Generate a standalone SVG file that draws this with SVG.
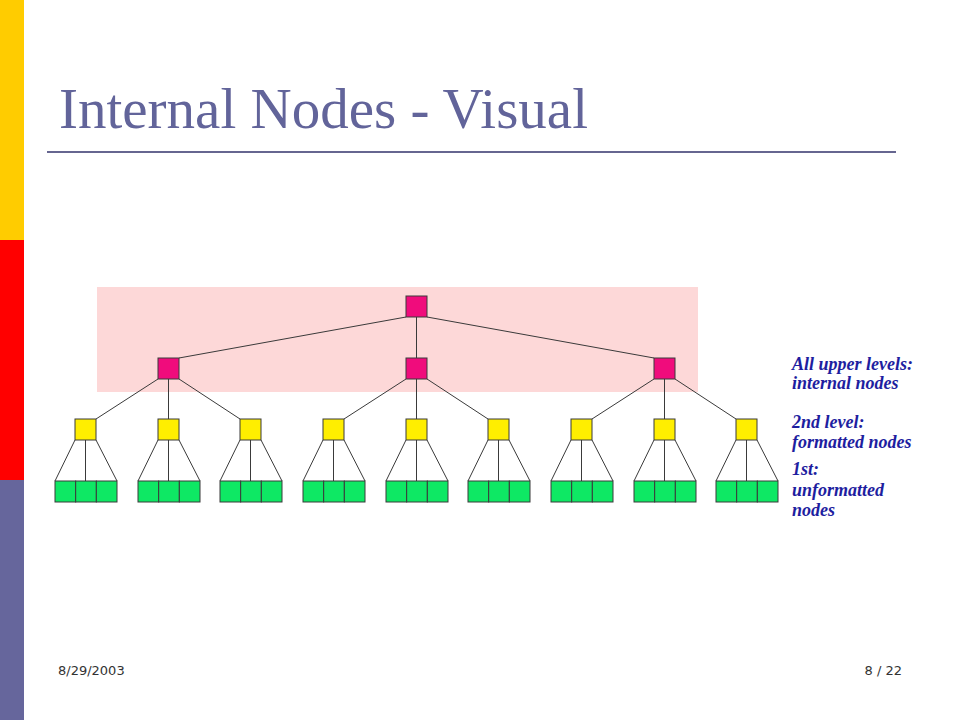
<svg xmlns="http://www.w3.org/2000/svg" width="960" height="720" viewBox="0 0 960 720">
<style>
.n{stroke:#3a3a3a;stroke-width:1}
.int{fill:#F00C7C}
.fmt{fill:#FFEE00}
.unf{fill:#0EE864}
.c{stroke:#3a3a3a;stroke-width:1;fill:none}
.lbl{font-family:"Liberation Serif",serif;font-weight:bold;font-style:italic;font-size:18px;fill:#1E1EA0}
.ft{font-family:"DejaVu Sans",sans-serif;font-size:13px;fill:#333333}
</style>
<defs>
<g id="leaf">
<rect class="n unf" x="0" y="0" width="20.67" height="21"/>
<rect class="n unf" x="20.67" y="0" width="20.67" height="21"/>
<rect class="n unf" x="41.33" y="0" width="20.67" height="21"/>
</g>
</defs>
<rect width="960" height="720" fill="#FFFFFF"/>
<rect x="0" y="0" width="24" height="240" fill="#FFCC00"/>
<rect x="0" y="240" width="24" height="240" fill="#FF0000"/>
<rect x="0" y="480" width="24" height="240" fill="#66669C"/>
<text x="59" y="128" font-family="'Liberation Serif',serif" font-size="57" fill="#62649A">Internal Nodes - Visual</text>
<line x1="47" y1="152" x2="896" y2="152" stroke="#666690" stroke-width="2"/>
<rect x="97" y="287" width="601" height="105" fill="#FDD8D8"/>
<g id="connectors">
<path class="c" d="M406 317L179 358M416.5 317L416.5 358M427 317L654 358"/>
<path class="c" d="M158 379L96 419M168.5 379L168.5 419M179 379L240 419"/>
<path class="c" d="M406 379L344 419M416.5 379L416.5 419M427 379L488 419"/>
<path class="c" d="M654 379L592 419M664.5 379L664.5 419M675 379L736 419"/>
<path class="c" d="M75 440L55 481M85.5 440L85.5 481M96 440L117 481"/>
<path class="c" d="M158 440L138 481M168.5 440L168.5 481M179 440L200 481"/>
<path class="c" d="M240 440L220 481M250.5 440L250.5 481M261 440L282 481"/>
<path class="c" d="M323 440L303 481M333.5 440L333.5 481M344 440L365 481"/>
<path class="c" d="M406 440L386 481M416.5 440L416.5 481M427 440L448 481"/>
<path class="c" d="M488 440L468 481M498.5 440L498.5 481M509 440L530 481"/>
<path class="c" d="M571 440L551 481M581.5 440L581.5 481M592 440L613 481"/>
<path class="c" d="M654 440L634 481M664.5 440L664.5 481M675 440L696 481"/>
<path class="c" d="M736 440L716 481M746.5 440L746.5 481M757 440L778 481"/>
</g>
<g id="root"><rect class="n int" x="406" y="296" width="21" height="21"/></g>
<g id="int1"><rect class="n int" x="158" y="358" width="21" height="21"/></g>
<g id="int2"><rect class="n int" x="406" y="358" width="21" height="21"/></g>
<g id="int3"><rect class="n int" x="654" y="358" width="21" height="21"/></g>
<g id="fmt1"><rect class="n fmt" x="75" y="419" width="21" height="21"/></g>
<g id="fmt2"><rect class="n fmt" x="158" y="419" width="21" height="21"/></g>
<g id="fmt3"><rect class="n fmt" x="240" y="419" width="21" height="21"/></g>
<g id="fmt4"><rect class="n fmt" x="323" y="419" width="21" height="21"/></g>
<g id="fmt5"><rect class="n fmt" x="406" y="419" width="21" height="21"/></g>
<g id="fmt6"><rect class="n fmt" x="488" y="419" width="21" height="21"/></g>
<g id="fmt7"><rect class="n fmt" x="571" y="419" width="21" height="21"/></g>
<g id="fmt8"><rect class="n fmt" x="654" y="419" width="21" height="21"/></g>
<g id="fmt9"><rect class="n fmt" x="736" y="419" width="21" height="21"/></g>
<g id="unf1"><use href="#leaf" x="55" y="481"/></g>
<g id="unf2"><use href="#leaf" x="138" y="481"/></g>
<g id="unf3"><use href="#leaf" x="220" y="481"/></g>
<g id="unf4"><use href="#leaf" x="303" y="481"/></g>
<g id="unf5"><use href="#leaf" x="386" y="481"/></g>
<g id="unf6"><use href="#leaf" x="468" y="481"/></g>
<g id="unf7"><use href="#leaf" x="551" y="481"/></g>
<g id="unf8"><use href="#leaf" x="634" y="481"/></g>
<g id="unf9"><use href="#leaf" x="716" y="481"/></g>
<g id="legend">
<text class="lbl" x="792" y="370">All upper levels:</text>
<text class="lbl" x="792" y="389">internal nodes</text>
<text class="lbl" x="792" y="428">2nd level:</text>
<text class="lbl" x="792" y="448">formatted nodes</text>
<text class="lbl" x="792" y="475">1st:</text>
<text class="lbl" x="792" y="496">unformatted</text>
<text class="lbl" x="792" y="516">nodes</text>
</g>
<text class="ft" x="58" y="675">8/29/2003</text>
<text class="ft" x="902" y="675" text-anchor="end">8 / 22</text>
</svg>
